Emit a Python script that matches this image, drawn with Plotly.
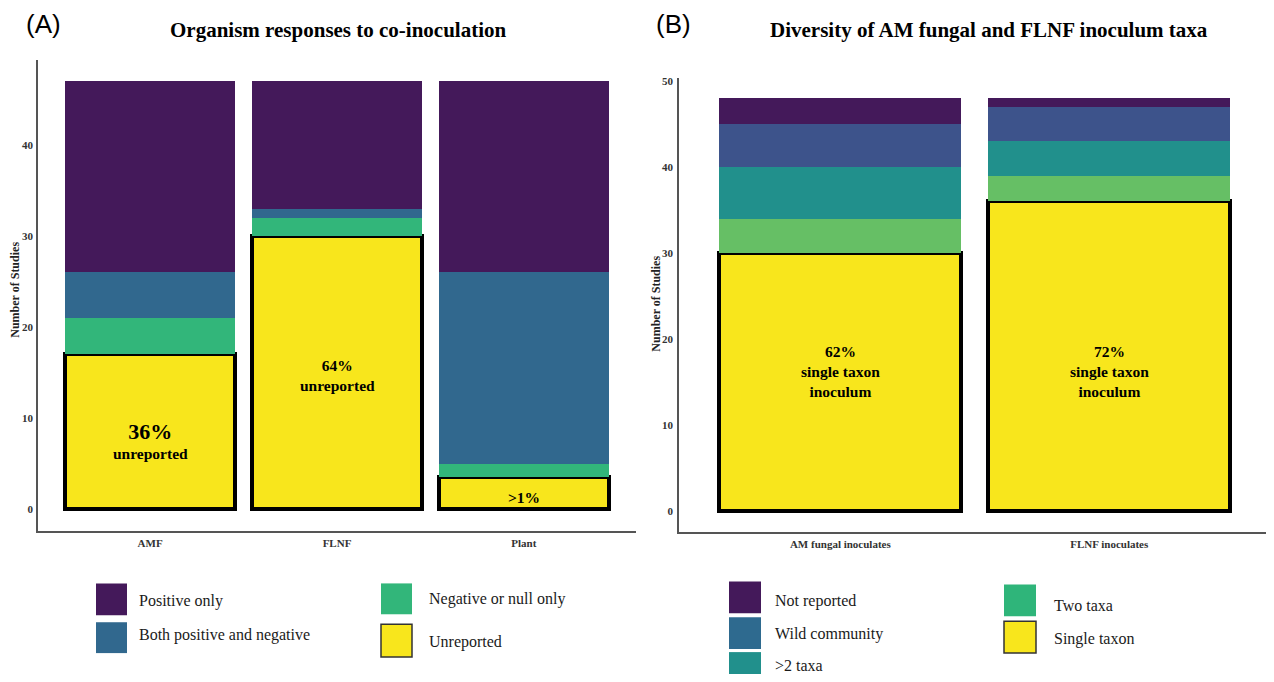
import plotly.graph_objects as go

# Page has an 8px body margin; the figure is sized so the whole page is 1274x682
OFF = 8
W, H = 1274 - 2 * OFF, 682 - 2 * OFF

# ---------------- Data ----------------
# Panel A: organism responses to co-inoculation
a_categories = ["AMF", "FLNF", "Plant"]
a_unreported = [17, 30, 3.5]
a_negative = [4, 2, 1.5]
a_both = [5, 1, 21]
a_positive = [21, 14, 21]
a_labels = ["<span style='font-size:22px'>36%</span><br>unreported", "64%<br>unreported", ">1%"]
a_label_y = [7.6, 14.7, 1.3]

# Panel B: diversity of inoculum taxa
b_categories = ["AM fungal inoculates", "FLNF inoculates"]
b_single = [30, 36]
b_two = [4, 3]
b_more = [6, 4]
b_wild = [5, 4]
b_notrep = [3, 1]
b_labels = ["62%<br>single taxon<br>inoculum", "72%<br>single taxon<br>inoculum"]
b_label_y = [16.2, 16.2]

a_ticks = [0, 10, 20, 30, 40]
b_ticks = [0, 10, 20, 30, 40, 50]

# ---------------- Styles ----------------
C_PURPLE = "#44195a"
C_BLUE_A = "#31688e"
C_GREEN_A = "#32b67a"
C_YELLOW = "#f8e61c"
C_BLUE_B = "#3d538b"
C_TEAL_B = "#21908c"
C_GREEN_B = "#66bf65"
SERIF = "Liberation Serif"


def px(x):
    return (x - OFF) / W


def py(y):
    return 1 - (y - OFF) / H


fig = go.Figure()

# Panel A bars (bottom -> top)
fig.add_trace(go.Bar(x=a_categories, y=a_unreported, name="Unreported",
                     marker=dict(color=C_YELLOW, line=dict(color="black", width=4)),
                     width=0.91, xaxis="x", yaxis="y"))
fig.add_trace(go.Bar(x=a_categories, y=a_negative, name="Negative or null only",
                     marker=dict(color=C_GREEN_A, line=dict(width=0)), width=0.91, xaxis="x", yaxis="y"))
fig.add_trace(go.Bar(x=a_categories, y=a_both, name="Both positive and negative",
                     marker=dict(color=C_BLUE_A, line=dict(width=0)), width=0.91, xaxis="x", yaxis="y"))
fig.add_trace(go.Bar(x=a_categories, y=a_positive, name="Positive only",
                     marker=dict(color=C_PURPLE, line=dict(width=0)), width=0.91, xaxis="x", yaxis="y"))

# Panel B bars
fig.add_trace(go.Bar(x=b_categories, y=b_single, name="Single taxon",
                     marker=dict(color=C_YELLOW, line=dict(color="black", width=4)),
                     width=0.9, xaxis="x2", yaxis="y2"))
fig.add_trace(go.Bar(x=b_categories, y=b_two, name="Two taxa",
                     marker=dict(color=C_GREEN_B, line=dict(width=0)), width=0.9, xaxis="x2", yaxis="y2"))
fig.add_trace(go.Bar(x=b_categories, y=b_more, name=">2 taxa",
                     marker=dict(color=C_TEAL_B, line=dict(width=0)), width=0.9, xaxis="x2", yaxis="y2"))
fig.add_trace(go.Bar(x=b_categories, y=b_wild, name="Wild community",
                     marker=dict(color=C_BLUE_B, line=dict(width=0)), width=0.9, xaxis="x2", yaxis="y2"))
fig.add_trace(go.Bar(x=b_categories, y=b_notrep, name="Not reported",
                     marker=dict(color=C_PURPLE, line=dict(width=0)), width=0.9, xaxis="x2", yaxis="y2"))

tickfont = dict(family=SERIF, size=11, color="#333333", weight="bold")
axcommon = dict(showline=True, linecolor="#555555", linewidth=1.5, showgrid=False, zeroline=False,
                tickfont=tickfont, ticks="outside", tickcolor="rgba(0,0,0,0)")

fig.update_layout(
    width=W, height=H, margin=dict(l=0, r=0, t=0, b=0),
    paper_bgcolor="white", plot_bgcolor="white",
    barmode="stack", showlegend=False,
    xaxis=dict(domain=[px(38), px(636)], anchor="y", type="category", range=[-0.6, 2.6], ticklen=1, **axcommon),
    yaxis=dict(domain=[py(530), py(57)], anchor="x", range=[-2.35, 49.35], tickvals=a_ticks, ticklen=1, **axcommon),
    xaxis2=dict(domain=[px(679), 1.0], anchor="y2", type="category", range=[-0.6, 1.583], ticklen=1, **axcommon),
    yaxis2=dict(domain=[py(531), py(75)], anchor="x2", range=[-2.4, 50.4], tickvals=b_ticks, ticklen=2, **axcommon),
)

ann = []
shapes = []

# in-bar labels
for cat, lab, yy in zip(a_categories, a_labels, a_label_y):
    ann.append(dict(x=cat, y=yy, xref="x", yref="y", text=lab, showarrow=False,
                    xanchor="center", yanchor="middle",
                    font=dict(family=SERIF, size=15.5, color="black", weight="bold")))
for cat, lab, yy in zip(b_categories, b_labels, b_label_y):
    ann.append(dict(x=cat, y=yy, xref="x2", yref="y2", text=lab, showarrow=False,
                    xanchor="center", yanchor="middle",
                    font=dict(family=SERIF, size=15.5, color="black", weight="bold")))


def text(x, y, s, size, family=SERIF, bold=False, xanchor="left", angle=0, color="#1a1a1a"):
    ann.append(dict(x=px(x), y=py(y), xref="paper", yref="paper", text=s, showarrow=False,
                    xanchor=xanchor, yanchor="middle", textangle=angle,
                    font=dict(family=family, size=size, color=color, weight="bold" if bold else "normal")))


text(24, 21, "(A)", 26, family="Liberation Sans", color="black")
text(654, 21, "(B)", 26, family="Liberation Sans", color="black")
text(338, 27, "Organism responses to co-inoculation", 21, bold=True, xanchor="center", color="black")
text(989, 27, "Diversity of AM fungal and FLNF inoculum taxa", 21, bold=True, xanchor="center", color="black")
text(15, 288, "Number of Studies", 12, bold=True, xanchor="center", angle=-90, color="#222222")
text(656, 302, "Number of Studies", 12, bold=True, xanchor="center", angle=-90, color="#222222")


def legend_item(x0, y0, x1, y1, color, label, tx, ty, border=False):
    shapes.append(dict(type="rect", xref="paper", yref="paper", x0=px(x0), x1=px(x1), y0=py(y1), y1=py(y0),
                       fillcolor=color, line=dict(color="#333333" if border else color, width=1.5 if border else 0)))
    text(tx, ty, label, 16)


# Legend A
legend_item(96, 583, 127, 615, C_PURPLE, "Positive only", 137, 601)
legend_item(96, 622, 127, 653, C_BLUE_A, "Both positive and negative", 137, 635)
legend_item(381, 583, 412, 614, C_GREEN_A, "Negative or null only", 427, 599)
legend_item(381, 624, 412, 657, C_YELLOW, "Unreported", 427, 642, border=True)
# Legend B
legend_item(729, 581, 761, 613, C_PURPLE, "Not reported", 773, 601)
legend_item(729, 617, 761, 649, "#2e6a8f", "Wild community", 773, 634)
legend_item(729, 652, 761, 684, C_TEAL_B, ">2 taxa", 773, 665)
legend_item(1004, 584, 1036, 616, "#2fb57a", "Two taxa", 1052, 605)
legend_item(1004, 621, 1036, 653, C_YELLOW, "Single taxon", 1052, 639, border=True)

fig.update_layout(annotations=ann, shapes=shapes)

fig.write_html("out.html")
